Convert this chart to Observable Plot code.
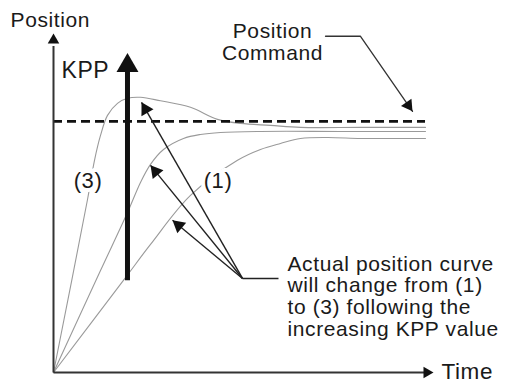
<!DOCTYPE html>
<html>
<head>
<meta charset="utf-8">
<script src="https://cdn.jsdelivr.net/npm/d3@7"></script>
<script src="https://cdn.jsdelivr.net/npm/@observablehq/plot@0.6"></script>
<style>
  html, body { margin: 0; padding: 0; background: #fff; }
  #chart svg { display: block; }
  #chart svg text { letter-spacing: 0.6px; }
</style>
</head>
<body>
<div id="chart"></div>
<script>
// ---------- data (time in arbitrary units, position relative to the command) ----------
const commandLevel = 1.0;
const commandEnd = 9.79;

const curve1Time = [0, 1.895, 2.553, 3.605, 4.842, 5.447, 5.974, 6.5, 7.211, 8.079, 8.947, 9.789];
const curve1Pos  = [0, 0.378, 0.510, 0.705, 0.845, 0.888, 0.912, 0.932, 0.936, 0.932, 0.932, 0.932];

const curve2Time = [0, 1.237, 1.947, 2.289, 2.553, 2.895, 3.421, 3.868, 4.395, 5.447, 7.553, 9.789];
const curve2Pos  = [0, 0.406, 0.637, 0.757, 0.829, 0.888, 0.932, 0.948, 0.956, 0.960, 0.960, 0.960];

const curve3Time = [0, 0.895, 1.079, 1.237, 1.421, 1.684, 1.947, 2.289, 2.816, 3.605, 4.316, 4.921, 5.711, 6.5, 8.079, 9.789];
const curve3Pos  = [0, 0.689, 0.845, 0.944, 1.024, 1.072, 1.092, 1.096, 1.082, 1.056, 1.008, 0.992, 0.984, 0.976, 0.976, 0.976];

const axisLabels = ["Position", "Time"];
const curveLabels = ["(1)", "(3)"];
const kppLabel = "KPP";
const commandLabel = ["Position", "Command"];
const noteLines = [
  "Actual position curve",
  "will change from (1)",
  "to (3) following the",
  "increasing KPP value"
];

// ---------- layout ----------
const W = 505, H = 389;
const mL = 53, mR = 72, mT = 33, mB = 17;
const xDomain = [0, 10], yDomain = [0, 1.35];
const xs = Plot.scale({x: {domain: xDomain, range: [mL, W - mR]}});
const ys = Plot.scale({y: {domain: yDomain, range: [H - mB, mT]}});

const toRows = (ts, ps, id) => ts.map((t, i) => ({t, p: ps[i], id}));
const curves = [
  ...toRows(curve1Time, curve1Pos, "1"),
  ...toRows(curve2Time, curve2Pos, "2"),
  ...toRows(curve3Time, curve3Pos, "3")
];

// filled triangular arrow head: tip at (tt, ty), coming from (ft, fy), length in px
function head(tt, ty, ft, fy, len) {
  const tx = xs.apply(tt), tyy = ys.apply(ty);
  const fx = xs.apply(ft), fyy = ys.apply(fy);
  let dx = tx - fx, dy = tyy - fyy;
  const n = Math.hypot(dx, dy); dx /= n; dy /= n;
  const cx = tx - dx * len * 2 / 3, cy = tyy - dy * len * 2 / 3;
  return {t: xs.invert(cx), p: ys.invert(cy), r: len / 2.333, rotate: Math.atan2(dx, -dy) * 180 / Math.PI};
}

// annotation arrows
const junction = {t: 4.974, p: 0.3745};
const noteTips = [
  {t: 2.316, p: 1.076},
  {t: 2.553, p: 0.825},
  {t: 3.132, p: 0.606}
];
const cmdLeader = [{t: 7.158, p: 1.339}, {t: 8.079, p: 1.339}, {t: 9.447, p: 1.040}];
const kpp = {t: 1.947, bottom: 0.367, tip: 1.272};

const heads = [
  head(0, 1.35, 0, 0, 10),             // y axis
  head(10, 0, 0, 0, 10),               // x axis
  head(kpp.t, kpp.tip, kpp.t, kpp.bottom, 19),
  head(cmdLeader[2].t, cmdLeader[2].p, cmdLeader[1].t, cmdLeader[1].p, 11),
  ...noteTips.map(d => head(d.t, d.p, junction.t, junction.p, 12))
];
const kppHead = heads[2];

const font = "'Liberation Sans', Arial, Helvetica, sans-serif";

const chart = Plot.plot({
  width: W, height: H,
  marginLeft: mL, marginRight: mR, marginTop: mT, marginBottom: mB,
  x: {domain: xDomain, axis: null},
  y: {domain: yDomain, axis: null},
  r: {type: "identity"},
  style: {background: "white", fontFamily: font, overflow: "visible"},
  marks: [
    // response curves
    Plot.line(curves, {x: "t", y: "p", z: "id", stroke: "#9a9a9a", strokeWidth: 1.1, curve: "catmull-rom"}),
    // position command
    Plot.ruleY([commandLevel], {x1: 0, x2: commandEnd, stroke: "#111", strokeWidth: 2.6, strokeDasharray: "9,5"}),
    // axes
    Plot.link([{x1: 0, y1: 0, x2: 0, y2: 1.3}], {x1: "x1", y1: "y1", x2: "x2", y2: "y2", stroke: "#333", strokeWidth: 2}),
    Plot.link([{x1: 0, y1: 0, x2: 9.9, y2: 0}], {x1: "x1", y1: "y1", x2: "x2", y2: "y2", stroke: "#333", strokeWidth: 2}),
    // curve labels with white halo
    Plot.text([{t: 0.908, p: 0.761, s: curveLabels[1]}, {t: 4.329, p: 0.761, s: curveLabels[0]}],
      {x: "t", y: "p", text: "s", fontSize: 22, fill: "#1a1a1a", stroke: "white", strokeWidth: 8, paintOrder: "stroke", lineAnchor: "middle"}),
    // KPP arrow
    Plot.link([{x1: kpp.t, y1: kpp.bottom, x2: kpp.t, y2: kppHead.p}], {x1: "x1", y1: "y1", x2: "x2", y2: "y2", stroke: "#111", strokeWidth: 5}),
    // annotation arrows
    Plot.link(noteTips, {x1: junction.t, y1: junction.p, x2: "t", y2: "p", stroke: "#222", strokeWidth: 1.4}),
    Plot.link([{x2: 5.921}], {x1: junction.t, y1: junction.p, x2: "x2", y2: junction.p, stroke: "#222", strokeWidth: 1.4}),
    // command leader
    Plot.line(cmdLeader, {x: "t", y: "p", stroke: "#333", strokeWidth: 1.3}),
    // arrow heads
    Plot.dot(heads, {x: "t", y: "p", r: "r", rotate: "rotate", symbol: "triangle", fill: "#111", stroke: "none"}),
    // texts
    Plot.text([axisLabels[0]], {x: -1.13, y: 1.401, text: d => d, fontSize: 21, textAnchor: "start", fill: "#1a1a1a", lineAnchor: "middle"}),
    Plot.text([axisLabels[1]], {x: 10.21, y: 0.004, text: d => d, fontSize: 22.5, textAnchor: "start", fill: "#1a1a1a", lineAnchor: "middle"}),
    Plot.text([kppLabel], {x: 0.21, y: 1.203, text: d => d, fontSize: 23, textAnchor: "start", fill: "#1a1a1a", lineAnchor: "middle"}),
    Plot.text(commandLabel, {x: 5.763, y: (d, i) => [1.360, 1.270][i], text: d => d, fontSize: 21, textAnchor: "middle", fill: "#1a1a1a", lineAnchor: "middle"}),
    Plot.text(noteLines, {x: 6.158, y: (d, i) => [0.433, 0.347, 0.260, 0.174][i], text: d => d, fontSize: 21, textAnchor: "start", fill: "#1a1a1a", lineAnchor: "middle"})
  ]
});
document.getElementById("chart").appendChild(chart);
</script>
</body>
</html>
